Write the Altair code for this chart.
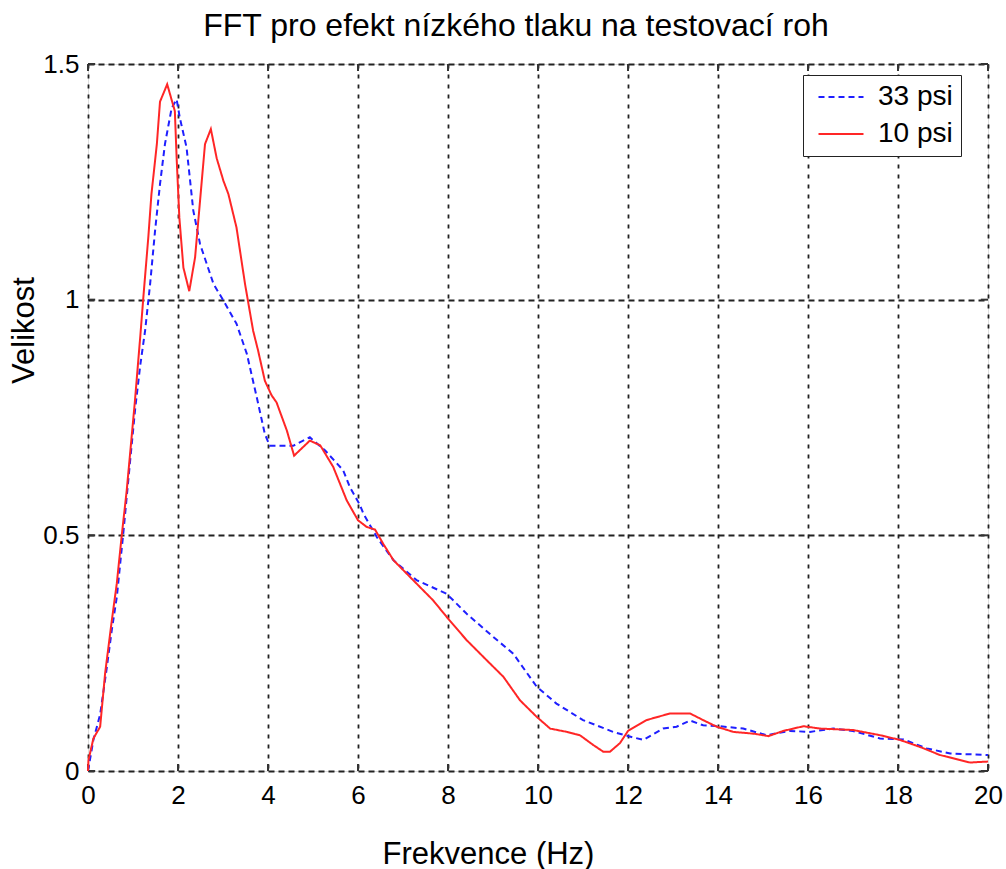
import altair as alt
import pandas as pd

# Frequency (Hz) and FFT magnitude for the two tyre pressures
freq_33 = [0.0, 0.12, 0.27, 0.41, 0.53, 0.64, 0.79, 0.93, 1.05, 1.16, 1.27, 1.38,
           1.49, 1.60, 1.71, 1.86, 1.97, 2.04, 2.19, 2.34, 2.49, 2.79, 3.01, 3.30,
           3.53, 3.75, 3.93, 4.04, 4.56, 4.93, 5.27, 5.67, 5.82, 6.04, 6.12, 6.42,
           6.79, 7.30, 7.97, 8.41, 9.00, 9.45, 9.97, 10.41, 11.00, 11.67, 12.04,
           12.34, 12.78, 13.08, 13.38, 13.67, 14.04, 14.56, 15.08, 15.60, 16.04,
           16.56, 17.00, 17.60, 18.12, 18.64, 19.16, 20.0]
mag_33 = [0.0, 0.066, 0.12, 0.214, 0.30, 0.369, 0.51, 0.652, 0.77, 0.86, 0.935, 1.033,
          1.146, 1.245, 1.33, 1.407, 1.425, 1.386, 1.323, 1.189, 1.118, 1.033, 0.998, 0.949,
          0.885, 0.793, 0.715, 0.69, 0.69, 0.708, 0.68, 0.638, 0.602, 0.565, 0.546, 0.496,
          0.447, 0.405, 0.376, 0.334, 0.285, 0.249, 0.179, 0.143, 0.108, 0.083, 0.073,
          0.066, 0.09, 0.094, 0.107, 0.097, 0.095, 0.09, 0.076, 0.085, 0.083,
          0.09, 0.085, 0.069, 0.067, 0.048, 0.037, 0.034]

freq_10 = [0.0, 0.01, 0.12, 0.27, 0.38, 0.53, 0.64, 0.75, 0.86, 1.04, 1.16, 1.23,
           1.34, 1.41, 1.53, 1.60, 1.76, 1.93, 1.97, 2.03, 2.12, 2.25, 2.38, 2.49,
           2.60, 2.73, 2.86, 3.01, 3.12, 3.30, 3.49, 3.67, 3.78, 3.93, 4.08, 4.19,
           4.42, 4.58, 4.93, 5.16, 5.45, 5.75, 6.00, 6.19, 6.38, 6.56, 6.79, 7.38,
           7.67, 7.97, 8.41, 8.86, 9.23, 9.60, 9.97, 10.27, 10.64, 10.93, 11.23,
           11.45, 11.60, 11.82, 12.00, 12.41, 12.93, 13.38, 13.67, 13.97, 14.34,
           14.81, 15.12, 15.45, 15.90, 16.27, 17.00, 17.60, 18.04, 18.49, 18.93,
           19.60, 20.0]
mag_10 = [0.0, 0.023, 0.069, 0.094, 0.207, 0.32, 0.398, 0.50, 0.595, 0.782, 0.92, 1.005,
          1.132, 1.224, 1.33, 1.42, 1.457, 1.40, 1.30, 1.174, 1.068, 1.018, 1.09, 1.21,
          1.33, 1.362, 1.30, 1.252, 1.224, 1.153, 1.033, 0.934, 0.892, 0.828, 0.797, 0.782,
          0.722, 0.669, 0.701, 0.691, 0.645, 0.574, 0.532, 0.518, 0.512, 0.482, 0.447, 0.39,
          0.362, 0.327, 0.278, 0.235, 0.20, 0.15, 0.115, 0.09, 0.083, 0.076, 0.055,
          0.041, 0.041, 0.059, 0.085, 0.108, 0.122, 0.122, 0.108, 0.094, 0.083,
          0.079, 0.074, 0.085, 0.095, 0.09, 0.087, 0.076, 0.066, 0.051, 0.034,
          0.018, 0.02]

series_names = ["33 psi", "10 psi"]
series_colors = ["#1f1fff", "#ff2626"]
series_dash = [[6, 4], [1, 0]]

x_tick_values = [0, 2, 4, 6, 8, 10, 12, 14, 16, 18, 20]
y_tick_values = [0, 0.5, 1, 1.5]

FONT = "Liberation Sans"

df = pd.concat([
    pd.DataFrame({"x": freq_33, "y": mag_33, "s": series_names[0]}),
    pd.DataFrame({"x": freq_10, "y": mag_10, "s": series_names[1]}),
], ignore_index=True)

x_enc = alt.X("x:Q", title="Frekvence (Hz)",
              scale=alt.Scale(domain=[0, 20], nice=False, zero=False),
              axis=alt.Axis(values=x_tick_values, format="d", ticks=False, domain=False,
                            labelFlush=False,
                            labelFontSize=26, labelPadding=11, labelFont=FONT, labelColor="#000",
                            gridDash=[4, 6], gridColor="#222", gridWidth=1.8,
                            titleFontSize=31, titleFont=FONT, titleFontWeight="normal",
                            titleColor="#000", titleX=400, titleY=92,
                            titleAlign="center", titleBaseline="alphabetic"))
y_enc = alt.Y("y:Q", title="Velikost",
              scale=alt.Scale(domain=[0, 1.5], nice=False, zero=False),
              axis=alt.Axis(values=y_tick_values, format="~g",
                            ticks=False, domain=False, labelFlush=False,
                            labelFontSize=26, labelPadding=9, labelFont=FONT, labelColor="#000",
                            gridDash=[6, 4], gridColor="#222", gridWidth=1.8,
                            titleFontSize=31, titleFont=FONT, titleFontWeight="normal",
                            titleColor="#000", titleX=-55, titleY=266,
                            titleAlign="center", titleBaseline="alphabetic"))

# Legend line samples: a wide stroke path on a small symbol size keeps rows compact
legend = alt.Legend(title=None, orient="none", legendX=715, legendY=11,
                    fillColor="white", strokeColor="#222", padding=8,
                    symbolType="M-1.8,0H1.8", symbolSize=625, symbolStrokeWidth=2,
                    symbolOffset=16, symbolFillColor="transparent",
                    labelFontSize=28, labelFont=FONT, labelColor="#000",
                    labelOffset=23, rowPadding=9)

color_enc = alt.Color("s:N", scale=alt.Scale(domain=series_names, range=series_colors),
                      legend=legend)
dash_enc = alt.StrokeDash("s:N", scale=alt.Scale(domain=series_names, range=series_dash),
                          legend=legend)

base = alt.Chart(df).mark_line(strokeWidth=2).encode(
    x=x_enc, y=y_enc, color=color_enc, strokeDash=dash_enc)

line_33 = base.transform_filter(alt.datum.s == series_names[0])
line_10 = base.transform_filter(alt.datum.s == series_names[1])

# Inward tick marks on all four sides of the box
x_ticks_df = pd.DataFrame(
    [{"x": v, "y": 0.0, "y2": 0.015} for v in x_tick_values] +
    [{"x": v, "y": 1.485, "y2": 1.5} for v in x_tick_values])
y_ticks_df = pd.DataFrame(
    [{"y": v, "x": 0.0, "x2": 0.16} for v in y_tick_values] +
    [{"y": v, "x": 19.84, "x2": 20.0} for v in y_tick_values])

x_tick_rules = alt.Chart(x_ticks_df).mark_rule(color="#333", strokeWidth=2).encode(
    x=x_enc, y=y_enc, y2="y2:Q")
y_tick_rules = alt.Chart(y_ticks_df).mark_rule(color="#333", strokeWidth=2).encode(
    x=x_enc, x2="x2:Q", y=y_enc)

chart = alt.layer(x_tick_rules, y_tick_rules, line_33, line_10).properties(
    width=900, height=707,
    title=alt.TitleParams("FFT pro efekt nízkého tlaku na testovací roh",
                          fontSize=32, font=FONT, fontWeight="normal", color="#000",
                          anchor="middle", dx=-22, dy=43, baseline="alphabetic", offset=26),
    autosize=alt.AutoSizeParams(type="none"),
    padding={"left": 88, "top": 64, "right": 18, "bottom": 98},
).configure_view(stroke="#333", strokeWidth=2.2).configure(background="white")

chart.save("out.html", embed_options={"renderer": "svg", "actions": False})
